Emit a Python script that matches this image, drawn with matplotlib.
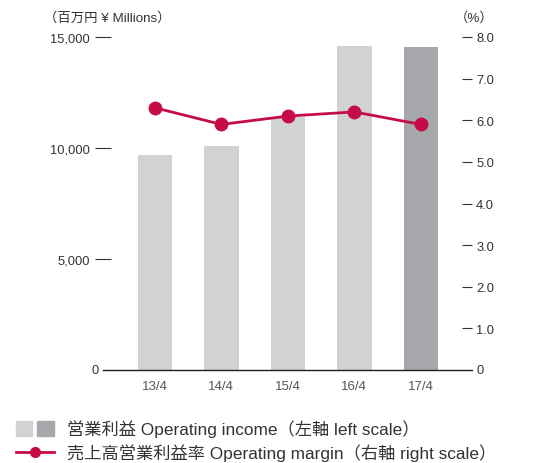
import matplotlib
matplotlib.use("Agg")
import matplotlib.pyplot as plt
from matplotlib.patches import Patch
from matplotlib.lines import Line2D
from matplotlib.legend_handler import HandlerTuple

plt.rcParams['font.family'] = ['Liberation Sans', 'Noto Sans CJK JP', 'DejaVu Sans']

# data
years = ["13/4", "14/4", "15/4", "16/4", "17/4"]
income = [9700, 10100, 11400, 14600, 14550]
margin = [6.3, 5.9, 6.1, 6.2, 5.9]

left_ticks = [5000, 10000, 15000]
left_labels = ["5,000", "10,000", "15,000"]
right_ticks = [1, 2, 3, 4, 5, 6, 7, 8]
right_labels = ["1.0", "2.0", "3.0", "4.0", "5.0", "6.0", "7.0", "8.0"]

light = "#d1d2d4"
dark = "#a7a8ab"
red = "#c60c46"
txt = "#333333"

fig = plt.figure(figsize=(5.37, 4.64), dpi=100)
ax = fig.add_axes([103 / 537, 93 / 464, 369 / 537, 333 / 464])
ax2 = ax.twinx()

x = list(range(len(years)))
cols = [light] * (len(years) - 1) + [dark]
ax.bar(x, income, width=0.52, color=cols, zorder=2)
ax.set_xlim(-0.78, 4.77)
ax.set_ylim(0, 15000)
ax.axhline(0, color="#231f20", lw=1.0, zorder=3, clip_on=False)

for a in (ax, ax2):
    for s in a.spines.values():
        s.set_visible(False)

ax.set_xticks(x)
ax.set_xticklabels(years)
ax.tick_params(axis="x", length=0, pad=7, labelsize=9.5, labelcolor="#555555")
ax.set_yticks(left_ticks)
ax.set_yticklabels(left_labels)
ax.tick_params(axis="y", direction="inout", length=11, width=0.8, color=txt,
               pad=4, labelsize=9.3, labelcolor=txt)
ax.text(-0.012, 0, "0", transform=ax.get_yaxis_transform(), ha="right",
        va="center", fontsize=9.3, color=txt)

ax2.plot(x, margin, color=red, lw=2, marker="o", ms=9, zorder=4)
ax2.set_ylim(0, 8)
ax2.set_yticks(right_ticks)
ax2.set_yticklabels(right_labels)
ax2.tick_params(axis="y", direction="in", length=7.2, width=0.8, color=txt,
                pad=3, labelsize=9.3, labelcolor=txt)
ax2.text(1.012, 0, "0", transform=ax2.get_yaxis_transform(), ha="left",
         va="center", fontsize=9.3, color=txt)

fig.text(44 / 537, 1 - 18 / 464, "（百万円 ¥ Millions）", ha="left", va="center",
         fontsize=9.6, color=txt)
fig.text(493 / 537, 1 - 18 / 464, "（%）", ha="right", va="center",
         fontsize=9.6, color=txt)

h1 = (Patch(color=light), Patch(color=dark))
h2 = Line2D([], [], color=red, lw=2, marker="o", ms=7)
fig.legend([h1, h2],
           ["営業利益 Operating income（左軸 left scale）",
            "売上高営業利益率 Operating margin（右軸 right scale）"],
           handler_map={tuple: HandlerTuple(ndivide=None, pad=0.3)},
           loc="lower left", bbox_to_anchor=(0.0, -0.03), frameon=False,
           fontsize=12.4, handlelength=2.25, handleheight=1.0,
           handletextpad=0.75, labelspacing=0.38, labelcolor=txt)

fig.savefig("out.png", dpi=100)
